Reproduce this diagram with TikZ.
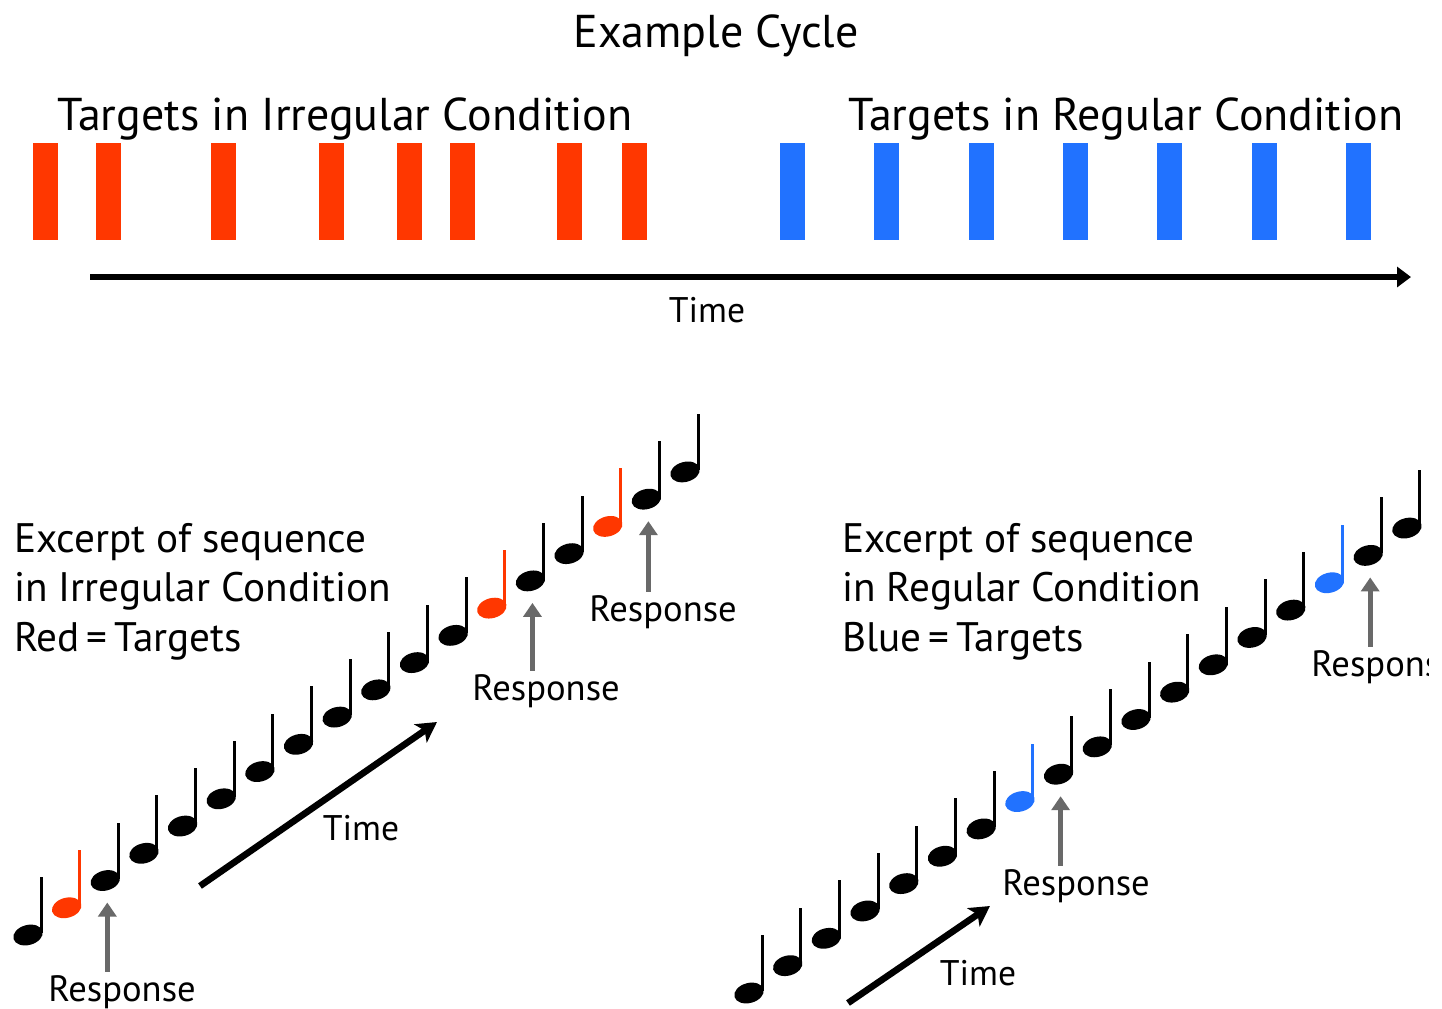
\documentclass[tikz,border=0pt]{standalone}
\usepackage{fontspec}
\setmainfont{PT Sans}
\usetikzlibrary{arrows.meta,calc}
\definecolor{tred}{RGB}{255,55,0}
\definecolor{tblue}{RGB}{33,114,255}
\definecolor{rgray}{RGB}{105,105,105}
\newcommand\qnote[4]{%
  \coordinate (#1) at (#2,#3);
  \fill[#4, rotate around={15:(#1)}] (#1) ellipse[x radius=15, y radius=10];
  \draw[#4, line width=1.5pt] ($(#1)+(13,-2)$) -- ++(0,-56);
}
\tikzset{
  bigtext/.style={inner sep=0pt, font=\fontsize{23}{28}\selectfont},
  midtext/.style={inner sep=0pt, font=\fontsize{20.6}{25}\selectfont, align=left},
  smalltext/.style={inner sep=0pt, font=\fontsize{18.3}{21}\selectfont},
  timetext/.style={inner sep=0pt, font=\fontsize{17.8}{21}\selectfont},
  redbar/.style={fill=tred},
  bluebar/.style={fill=tblue},
  resp/.style={draw=rgray, line width=2.6pt, -{Triangle[length=7pt,width=9pt]}},
  timearrow/.style={draw=black, line width=3.3pt, -{Stealth[length=10pt,width=11pt,inset=2.5pt]}},
  mainarrow/.style={draw=black, line width=3pt, -{Triangle[length=7pt,width=10pt]}},
}
\begin{document}
\begin{tikzpicture}[x=0.5pt,y=-0.5pt]
\useasboundingbox (0,0) rectangle (1442,1008);
% titles
\node[bigtext, anchor=base] (title) at (716,47) {Example Cycle};
\node[bigtext, anchor=base west] (tirr) at (57,130) {Targets in Irregular Condition};
\node[bigtext, anchor=base west] (treg) at (848,130) {Targets in Regular Condition};
% bars
\foreach \x in {33,96,211,319,397,450,557,622} {
  \fill[redbar] (\x,143) rectangle ++(25,97);
}
\foreach \i in {0,...,6} {
  \fill[bluebar] ({780+94.3*\i},143) rectangle ++(25,97);
}
% main time axis
\coordinate (ta) at (90,277);
\coordinate (tb) at (1411,277);
\draw[mainarrow] (ta) -- (tb);
\node[timetext, anchor=base] (ttop) at (707,322) {Time};
% excerpt texts
\node[midtext, anchor=base west] (exl1) at (14,552) {Excerpt of sequence};
\node[midtext, anchor=base west] (exl2) at (14,601) {in Irregular Condition};
\node[midtext, anchor=base west] (exl3) at (14,651) {Red\,=\,Targets};
\node[midtext, anchor=base west] (exr1) at (842,552) {Excerpt of sequence};
\node[midtext, anchor=base west] (exr2) at (842,601) {in Regular Condition};
\node[midtext, anchor=base west] (exr3) at (842,651) {Blue\,=\,Targets};
% left notes
\foreach \i in {0,...,17} {
  \pgfmathsetmacro\xx{28+38.65*\i}
  \pgfmathsetmacro\yy{935-27.24*\i}
  \def\cc{black}
  \ifnum\i=1 \def\cc{tred}\fi
  \ifnum\i=12 \def\cc{tred}\fi
  \ifnum\i=15 \def\cc{tred}\fi
  \qnote{L\i}{\xx}{\yy}{\cc}
}
% right notes
\foreach \i in {0,...,17} {
  \pgfmathsetmacro\xx{749+38.7*\i}
  \pgfmathsetmacro\yy{993-27.35*\i}
  \def\cc{black}
  \ifnum\i=7 \def\cc{tblue}\fi
  \ifnum\i=15 \def\cc{tblue}\fi
  \qnote{R\i}{\xx}{\yy}{\cc}
}
% response labels
\node[smalltext, anchor=base] (r1) at (122,1001) {Response};
\node[smalltext, anchor=base] (r2) at (546,700) {Response};
\node[smalltext, anchor=base] (r3) at (663,621) {Response};
\node[smalltext, anchor=base] (r4) at (1076,895) {Response};
\begin{scope}
\clip (0,0) rectangle (1428,1008);
\node[smalltext, anchor=base west] (r5) at (1311,676) {Response};
\end{scope}
% response arrows
\draw[resp] ([xshift=1pt,yshift=1.5pt]L2 |- r1.north) -- ([xshift=1pt,yshift=-11pt]L2);
\draw[resp] ([xshift=1pt,yshift=1.5pt]L13 |- r2.north) -- ([xshift=1pt,yshift=-11pt]L13);
\draw[resp] ([xshift=1pt,yshift=1.5pt]L16 |- r3.north) -- ([xshift=1pt,yshift=-11pt]L16);
\draw[resp] ([xshift=1pt,yshift=1.5pt]R8 |- r4.north) -- ([xshift=1pt,yshift=-11pt]R8);
\draw[resp] ([xshift=1pt,yshift=1.5pt]R16 |- r5.north) -- ([xshift=1pt,yshift=-11pt]R16);
% diagonal time arrows
\coordinate (dla) at (200,886);
\coordinate (dlb) at (437,722);
\draw[timearrow] (dla) -- (dlb);
\node[timetext, anchor=base] (tl) at (361,840) {Time};
\coordinate (dra) at (848,1003);
\coordinate (drb) at (990,906);
\draw[timearrow] (dra) -- (drb);
\node[timetext, anchor=base] (tr) at (978,985) {Time};
\end{tikzpicture}
\end{document}
